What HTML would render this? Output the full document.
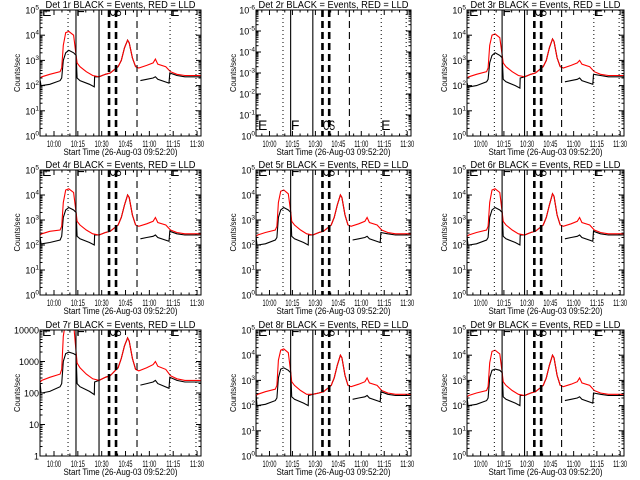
<!DOCTYPE html>
<html><head><meta charset="utf-8"><style>
html,body{margin:0;padding:0;background:#fff}
svg{display:block}
text{font-family:"Liberation Sans",sans-serif;fill:#000}
</style></head><body>
<svg id="c" width="640" height="480" viewBox="0 0 640 480" xmlns="http://www.w3.org/2000/svg"></svg>
<script>
// times in minutes after 09:52:20
const redT = [-1,0,5,11.5,12.5,13.5,15,17,20,21.6,22.2,24,28,32,36,40,43,46,48,50,52,54,55,57,59,61,66,70,71.5,73,78,81,85,90,100];
const blackT = [-1,-0.5,0,5,11.5,12.5,13.5,15,17,20,21.6,22.2,24,30,33,33.2,36,40,43,46,48,50,52,54,55,57,59,60,62,66,70,71.5,73,80,80.5,85,90,100];
const red1 = [2.3,2.35,2.45,2.55,2.7,3.6,4.1,4.15,4.0,3.2,2.9,2.75,2.55,2.4,2.35,2.45,2.5,2.65,2.75,3.0,3.5,3.8,3.7,3.1,2.75,2.7,2.8,2.9,3.05,2.85,2.75,2.55,2.45,2.4,2.4];
const black1 = [2.2,2.0,2.0,2.05,2.2,2.3,3.0,3.3,3.4,3.3,3.2,2.3,2.2,2.05,1.95,2.35,2.35,2.45,2.5,2.65,2.75,3.0,3.5,3.8,3.7,3.1,2.75,null,2.2,2.25,2.3,2.35,2.25,2.1,2.5,2.4,2.35,2.35];
const red3 = [2.3,2.35,2.45,2.55,2.7,3.6,4.0,4.05,3.9,3.2,2.9,2.75,2.55,2.4,2.35,2.45,2.5,2.65,2.75,3.0,3.5,3.85,3.75,3.1,2.75,2.7,2.8,2.9,3.0,2.85,2.75,2.55,2.45,2.4,2.4];
const black3 = [2.1,1.95,1.95,2.0,2.15,2.25,2.9,3.2,3.3,3.2,3.1,2.25,2.15,2.0,1.9,2.3,2.35,2.45,2.5,2.65,2.75,3.0,3.5,3.85,3.75,3.1,2.75,null,2.15,2.2,2.25,2.3,2.2,2.05,2.45,2.4,2.35,2.35];
const red4 = [2.4,2.45,2.55,2.6,2.75,3.7,4.2,4.25,4.1,3.3,2.95,2.8,2.6,2.45,2.4,2.5,2.55,2.7,2.8,3.1,3.6,4.0,3.9,3.2,2.8,2.75,2.85,2.95,3.1,2.9,2.8,2.6,2.5,2.45,2.45];
const black4 = [2.3,2.05,2.05,2.1,2.2,2.35,3.1,3.4,3.5,3.4,3.3,2.35,2.25,2.1,2.0,2.4,2.4,2.5,2.55,2.7,2.8,3.1,3.6,4.0,3.9,3.2,2.8,null,2.25,2.3,2.35,2.4,2.3,2.15,2.55,2.45,2.4,2.4];
const red5 = [2.35,2.4,2.5,2.6,2.75,3.7,4.15,4.2,4.05,3.3,2.95,2.8,2.6,2.45,2.4,2.5,2.55,2.7,2.8,3.1,3.6,4.0,3.9,3.2,2.8,2.75,2.85,2.95,3.1,2.9,2.8,2.6,2.5,2.45,2.45];
const black5 = [2.3,2.0,2.0,2.05,2.2,2.3,3.1,3.4,3.5,3.4,3.3,2.35,2.25,2.1,2.0,2.4,2.4,2.5,2.55,2.7,2.8,3.1,3.6,4.0,3.9,3.2,2.8,null,2.2,2.25,2.3,2.35,2.25,2.1,2.5,2.45,2.4,2.4];
const red6 = [2.35,2.4,2.5,2.6,2.75,3.7,4.2,4.25,4.1,3.3,2.95,2.8,2.6,2.45,2.4,2.5,2.55,2.7,2.8,3.1,3.6,4.05,3.95,3.2,2.8,2.75,2.85,2.95,3.1,2.9,2.8,2.6,2.5,2.45,2.45];
const black6 = [2.3,2.0,2.0,2.05,2.2,2.3,3.1,3.4,3.5,3.4,3.3,2.35,2.25,2.1,2.0,2.4,2.4,2.5,2.55,2.7,2.8,3.1,3.6,4.05,3.95,3.2,2.8,null,2.25,2.3,2.35,2.4,2.3,2.15,2.55,2.45,2.4,2.4];
const red7 = [2.35,2.4,2.5,2.6,2.75,3.8,4.3,4.4,4.2,3.3,2.95,2.8,2.6,2.45,2.4,2.5,2.55,2.7,2.8,3.1,3.5,3.75,3.65,3.1,2.75,2.7,2.8,2.9,3.0,2.85,2.75,2.55,2.45,2.4,2.4];
const black7 = [2.3,2.0,2.0,2.05,2.2,2.3,3.0,3.25,3.3,3.25,3.2,2.3,2.2,2.05,1.95,2.35,2.4,2.5,2.55,2.7,2.8,3.1,3.5,3.75,3.65,3.1,2.75,null,2.25,2.3,2.35,2.4,2.3,2.15,2.5,2.4,2.35,2.35];
const red8 = [2.4,2.45,2.55,2.65,2.8,3.8,4.2,4.25,4.1,3.3,2.95,2.8,2.6,2.45,2.45,2.5,2.55,2.7,2.8,3.1,3.6,4.0,3.9,3.2,2.8,2.75,2.85,2.95,3.1,2.9,2.8,2.6,2.5,2.45,2.45];
const black8 = [2.4,2.0,2.0,2.05,2.2,2.3,3.1,3.45,3.5,3.4,3.3,2.35,2.25,2.1,2.0,2.4,2.45,2.5,2.55,2.7,2.8,3.1,3.6,4.0,3.9,3.2,2.8,null,2.25,2.3,2.35,2.4,2.3,2.15,2.55,2.45,2.4,2.4];
const red9 = [2.35,2.4,2.5,2.6,2.75,3.7,4.15,4.2,4.05,3.3,2.95,2.8,2.6,2.45,2.4,2.5,2.55,2.7,2.8,3.1,3.6,4.0,3.9,3.2,2.8,2.75,2.85,2.95,3.1,2.9,2.8,2.6,2.5,2.45,2.45];
const black9 = [2.3,2.0,2.0,2.05,2.2,2.3,3.1,3.4,3.45,3.4,3.3,2.35,2.25,2.1,2.0,2.4,2.4,2.5,2.55,2.7,2.8,3.1,3.6,4.0,3.9,3.2,2.8,null,2.2,2.25,2.3,2.35,2.25,2.1,2.5,2.45,2.4,2.4];
const xTickLabels = ["10:00","10:15","10:30","10:45","11:00","11:15","11:30"];
const xTickTimes = [7.67,22.67,37.67,52.67,67.67,82.67,97.67];
const markerTimes = [16.5,21.5,36,42.3,46.7,59.9,80.7,97.0];
const markerStyles = ["dot","solid","solid","thickdash","thickdash","dash","dot","dot"];

const NS="http://www.w3.org/2000/svg";
const svg=document.getElementById('c');
function mk(tag,attrs,parent){const e=document.createElementNS(NS,tag);for(const k in attrs)e.setAttribute(k,attrs[k]);(parent||svg).appendChild(e);return e;}
const cols=[[40,201],[256,411],[467,624]];
const rows=[[10,136],[170,295],[330,456]];
const panels=[
 {n:1,red:red1,black:black1},{n:2,red:null,black:null},{n:3,red:red3,black:black3},
 {n:4,red:red4,black:black4},{n:5,red:red5,black:black5},{n:6,red:red6,black:black6},
 {n:7,red:red7,black:black7},{n:8,red:red8,black:black8},{n:9,red:red9,black:black9}];
panels.forEach((p,i)=>{
  const [x0,x1]=cols[i%3],[y0,y1]=rows[Math.floor(i/3)];
  const g=mk('g',{});
  
  
  let ymin=0,ymax=5;
  if(p.n===2){ymin=0;ymax=6;}
  if(p.n===7){ymin=0;ymax=4;}
  const X=t=>x0+(t+1.14)/101.3*(x1-x0);
  const Y=v=>y1-(v-ymin)/(ymax-ymin)*(y1-y0);
  const cid='clip'+p.n;
  const cp=mk('clipPath',{id:cid},g);mk('rect',{x:x0,y:y0,width:x1-x0,height:y1-y0},cp);
  const inner=mk('g',{'clip-path':'url(#'+cid+')'},g);
  function line(T,V,color,name){
    let d='',pen=false;
    for(let k=0;k<T.length;k++){
      if(V[k]==null){pen=false;continue;}
      const x=X(T[k]).toFixed(1),y=Y(V[k]).toFixed(1);
      d+=(pen?'L':'M')+x+' '+y;pen=true;
    }
    const pa=mk('path',{d:d,fill:'none',stroke:color,'stroke-width':1.1,'stroke-linejoin':'miter'},inner);
    
    
  }
  if(p.black){line(blackT,p.black,'#000','events-line');line(redT,p.red,'#f00','lld-line');}
  markerTimes.forEach((t,k)=>{
    const s=markerStyles[k];const a={x1:X(t),x2:X(t),y1:y0,y2:y1,stroke:'#000'};
    if(s==='dot'){a['stroke-dasharray']='1,3';a['stroke-width']=1;}
    else if(s==='solid'){a['stroke-width']=1.1;}
    else if(s==='thickdash'){a['stroke-dasharray']='7,4';a['stroke-width']=2.6;}
    else {a['stroke-dasharray']='7,4';a['stroke-width']=1.1;}
    const l=mk('line',a,inner);
    
    
  });
  const lt=[['E',-0.5],['F',21],['CS',42],['E',80]];
  const ly=p.n===2?y1-6:y0+6;
  lt.forEach(([s,t])=>{const e=mk('text',{x:X(t)+1,y:ly,'font-size':14},inner);e.textContent=s;
    if(s==='CS'){e.setAttribute('textLength','12');e.setAttribute('lengthAdjust','spacingAndGlyphs');}
    });
  mk('rect',{x:x0,y:y0,width:x1-x0,height:y1-y0,fill:'none',stroke:'#000','stroke-width':1},g);
  for(let d=ymin;d<=ymax;d++){
    const y=Y(d);
    mk('line',{x1:x0,x2:x0+5,y1:y,y2:y,stroke:'#000'},g);
    mk('line',{x1:x1,x2:x1-5,y1:y,y2:y,stroke:'#000'},g);
    if(d<ymax)for(let m=2;m<10;m++){const ym=Y(d+Math.log10(m));
      mk('line',{x1:x0,x2:x0+2.5,y1:ym,y2:ym,stroke:'#000'},g);
      mk('line',{x1:x1,x2:x1-2.5,y1:ym,y2:ym,stroke:'#000'},g);}
    const tx=mk('text',{x:x0-1,y:y+3.5,'font-size':9,'text-anchor':'end'},g);
    
    if(p.n===7){tx.textContent=String(Math.pow(10,d));
      tx.setAttribute('textLength',String(String(Math.pow(10,d)).length*5));tx.setAttribute('lengthAdjust','spacingAndGlyphs');}
    else{
      const e=p.n===2?(d===ymax?-6:(d===0?0:-d)):d;
      const t1=mk('tspan',{},tx);t1.textContent='10';
      const t2=mk('tspan',{dy:-4,'font-size':6.5},tx);t2.textContent=String(e);
    }
  }
  xTickTimes.forEach((t,k)=>{
    const x=X(t);
    mk('line',{x1:x,x2:x,y1:y1,y2:y1-5,stroke:'#000'},g);
    mk('line',{x1:x,x2:x,y1:y0,y2:y0+5,stroke:'#000'},g);
    for(let m=1;m<3;m++){const xm=X(t-5*m);if(xm>x0){mk('line',{x1:xm,x2:xm,y1:y1,y2:y1-2.5,stroke:'#000'},g);mk('line',{x1:xm,x2:xm,y1:y0,y2:y0+2.5,stroke:'#000'},g);}}
    const tx=mk('text',{x:x-7,y:y1+11,'font-size':9,textLength:14,lengthAdjust:'spacingAndGlyphs'},g);
    tx.textContent=xTickLabels[k];
    
  });
  const xc=(x0+x1)/2;
  const xt=mk('text',{x:xc-57,y:y1+19,'font-size':9.5,textLength:114,lengthAdjust:'spacingAndGlyphs'},g);
  xt.textContent='Start Time (26-Aug-03 09:52:20)';
  
  const tt=mk('text',{x:xc-75,y:y0-2,'font-size':10,textLength:150,lengthAdjust:'spacingAndGlyphs'},g);
  tt.textContent='Det '+p.n+'r BLACK = Events, RED = LLD';
  
  const yl=mk('text',{x:-19,y:0,'font-size':8.5,textLength:38,lengthAdjust:'spacingAndGlyphs',transform:'translate('+(x0-20)+','+((y0+y1)/2)+') rotate(-90)'},g);
  yl.textContent='Counts/sec';
  
});
</script>
</body></html>
